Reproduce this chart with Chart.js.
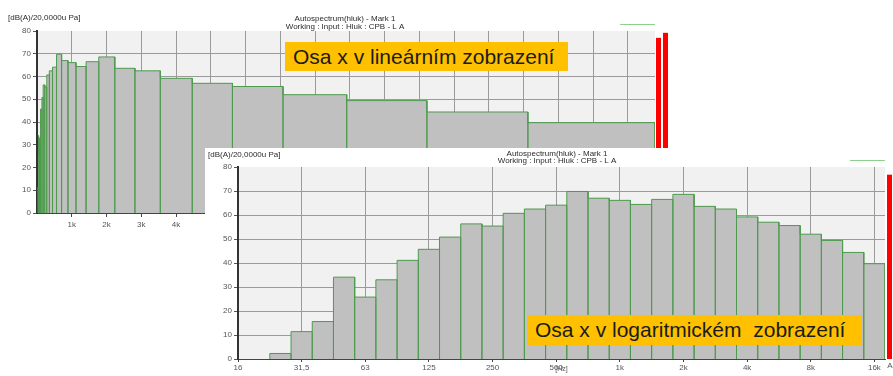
<!DOCTYPE html>
<html>
<head>
<meta charset="utf-8">
<title>Autospectrum hluk</title>
<script src="https://cdn.jsdelivr.net/npm/chart.js@4.4.1/dist/chart.umd.min.js"></script>
<style>
  body { margin: 0; background: #fff; font-family: "Liberation Sans", Arial, sans-serif; }
  #wrap { position: relative; width: 893px; height: 376px; overflow: hidden; }
  #linPanel { position: absolute; left: 0; top: 0; width: 675px; height: 232px; }
  #logPanel { position: absolute; left: 205px; top: 148px; width: 688px; height: 228px; background: #fff; }
  .tag { position: absolute; background: #ffc000; color: #1b1b1b; font-size: 21px; white-space: pre; box-sizing: border-box; padding-left: 8px; }
  #tagLin { left: 285px; top: 42px; width: 283px; height: 29px; line-height: 29px; }
  #tagLog { left: 527px; top: 315px; width: 335px; height: 30px; line-height: 30px; }
</style>
</head>
<body>
<div id="wrap">
  <div id="linPanel"><canvas id="linChart" width="675" height="232"></canvas></div>
  <div class="tag" id="tagLin">Osa x v lineárním zobrazení</div>
  <div id="logPanel"><canvas id="logChart" width="688" height="228"></canvas></div>
  <div class="tag" id="tagLog">Osa x v logaritmickém  zobrazení</div>
</div>
<script>
// third-octave bands 25 Hz .. 16 kHz, band number n -> centre 10^(n/10)
const bandLabels = ['25', '31,5', '40', '50', '63', '80', '100', '125', '160', '200', '250', '315', '400', '500',
  '630', '800', '1k', '1,25k', '1,6k', '2k', '2,5k', '3,15k', '4k', '5k', '6,3k', '8k', '10k', '12,5k', '16k'];
const firstBand = 14;
const levels = [2.3, 11.4, 15.6, 34.1, 25.8, 33.0, 41.1, 45.7, 50.8, 56.3, 55.4, 60.7, 62.5, 64.1,
  69.8, 67.0, 66.1, 64.4, 66.5, 68.6, 63.6, 62.5, 59.2, 57.0, 55.6, 52.0, 49.4, 44.4, 39.7];

// overall levels shown as red bars right of the plot
const totalsLin = [77.0, 79.2];
const totalsLog = [76.8];

const logTickLabels = ['16', '31,5', '63', '125', '250', '500', '1k', '2k', '4k', '8k', '16k'];
const linTickKHz = [1, 2, 3, 4, 5, 6, 7, 8, 9, 10, 11, 12, 13, 14, 15, 16, 17];

const unitText = '[dB(A)/20,0000u Pa]';
const titleLines = ['Autospectrum(hluk) - Mark 1', 'Working : Input : Hluk : CPB - L A'];

Chart.defaults.font.family = '"Liberation Sans", Arial, sans-serif';
Chart.defaults.font.size = 8;
Chart.defaults.color = '#555';

const fMin = Math.pow(10, 1.2);
const fMax = Math.pow(10, (firstBand + levels.length - 0.5) / 10);

// each band is traced as a closed rectangle from its lower to its upper edge
function bandOutline() {
  const pts = [];
  levels.forEach((v, i) => {
    const n = firstBand + i;
    const lo = Math.pow(10, (n - 0.5) / 10);
    const hi = Math.pow(10, (n + 0.5) / 10);
    pts.push({ x: lo, y: 0 }, { x: lo, y: v }, { x: hi, y: v }, { x: hi, y: 0 });
  });
  return pts;
}

const panelDecor = {
  id: 'panelDecor',
  beforeDraw(chart) {
    const { ctx, chartArea: a } = chart;
    ctx.save();
    ctx.fillStyle = '#f1f1f1';
    ctx.fillRect(a.left, a.top, a.right - a.left, a.bottom - a.top);
    ctx.restore();
  },
  afterDraw(chart, args, opts) {
    const { ctx, chartArea: a } = chart;
    const y = chart.scales.y;
    ctx.save();
    ctx.fillStyle = '#ff0000';
    opts.totals.forEach((v, i) => {
      const x0 = a.right + opts.totalOffset + i * 7;
      const top = y.getPixelForValue(v);
      ctx.fillRect(x0, top, 5, y.getPixelForValue(0) - top);
    });
    if (opts.totalLabel) {
      ctx.fillStyle = '#555';
      ctx.textAlign = 'center';
      ctx.textBaseline = 'middle';
      ctx.font = '8px "Liberation Sans", Arial, sans-serif';
      ctx.fillText(opts.totalLabel, a.right + opts.totalOffset + 3, a.bottom + 7);
    }
    // legend trace marker
    ctx.strokeStyle = '#8fcf8f';
    ctx.lineWidth = 1;
    ctx.beginPath();
    ctx.moveTo(a.right - 35, a.top - 6.5);
    ctx.lineTo(a.right, a.top - 6.5);
    ctx.stroke();
    ctx.fillStyle = '#2a2a2a';
    ctx.font = '8px "Liberation Sans", Arial, sans-serif';
    ctx.textBaseline = 'middle';
    ctx.textAlign = 'left';
    ctx.fillText(unitText, opts.unitX, opts.unitY);
    ctx.textAlign = 'center';
    titleLines.forEach((t, i) => ctx.fillText(t, opts.titleX, opts.titleY + i * 7.5));
    ctx.restore();
  }
};

function yScale(width) {
  return {
    min: 0,
    max: 80,
    ticks: { stepSize: 10, padding: 2, color: '#555' },
    grid: {
      color: c => (c.tick && (c.tick.value === 0 || c.tick.value === 80)) ? 'rgba(0,0,0,0)' : '#9a9a9a',
      tickColor: '#555',
      tickLength: 4
    },
    border: { color: '#333', width: 2 },
    afterFit: s => { s.width = width; }
  };
}

function spectrumDataset() {
  return {
    data: bandOutline(),
    borderColor: '#4e9a4e',
    borderWidth: 1,
    backgroundColor: '#c0c0c0',
    fill: 'origin',
    pointRadius: 0,
    tension: 0
  };
}

// linear frequency axis
new Chart(document.getElementById('linChart'), {
  type: 'line',
  data: { datasets: [spectrumDataset()] },
  options: {
    responsive: false,
    animation: false,
    layout: { padding: { left: 0, right: 20, top: 31, bottom: 0 } },
    plugins: {
      legend: { display: false },
      tooltip: { enabled: false },
      panelDecor: { totals: totalsLin, totalOffset: 1, unitX: 8, unitY: 18, titleX: 345, titleY: 19 }
    },
    scales: {
      x: {
        type: 'linear',
        min: 0,
        max: fMax,
        afterBuildTicks: s => { s.ticks = linTickKHz.map(k => ({ value: k * 1000 })); },
        ticks: { callback: v => (v / 1000) + 'k', padding: 3, maxRotation: 0, autoSkip: false, color: '#555' },
        grid: { color: '#9a9a9a', tickColor: '#444', tickLength: 4 },
        border: { color: '#444', width: 1 },
        afterFit: s => { s.height = 19; }
      },
      y: yScale(37)
    }
  },
  plugins: [panelDecor]
});

// logarithmic frequency axis
new Chart(document.getElementById('logChart'), {
  type: 'line',
  data: { datasets: [spectrumDataset()] },
  options: {
    responsive: false,
    animation: false,
    layout: { padding: { left: 0, right: 8, top: 19, bottom: 0 } },
    plugins: {
      legend: { display: false },
      tooltip: { enabled: false },
      panelDecor: { totals: totalsLog, totalOffset: 2, totalLabel: 'A', unitX: 3, unitY: 7, titleX: 352, titleY: 5.5 }
    },
    scales: {
      x: {
        type: 'logarithmic',
        min: fMin,
        max: fMax,
        afterBuildTicks: s => { s.ticks = logTickLabels.map((_, k) => ({ value: Math.pow(10, 1.2 + 0.3 * k) })); },
        ticks: { callback: (v, i) => logTickLabels[i], padding: 1, maxRotation: 0, autoSkip: false, color: '#555' },
        grid: {
          color: c => (c.index === 0 ? 'rgba(0,0,0,0)' : '#9a9a9a'),
          tickColor: '#444',
          tickLength: 3
        },
        border: { color: '#444', width: 1 },
        title: { display: true, text: '[Hz]', font: { size: 7 }, padding: { top: 0, bottom: 3 }, color: '#555' },
        afterFit: s => { s.height = 17; }
      },
      y: yScale(33)
    }
  },
  plugins: [panelDecor]
});
</script>
</body>
</html>
